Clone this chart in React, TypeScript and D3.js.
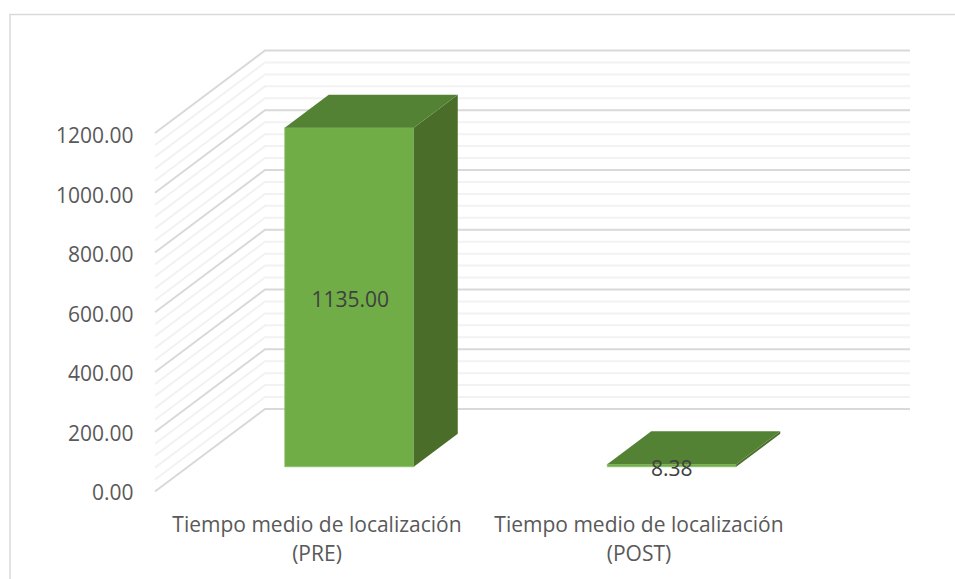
import React from "react";
import * as d3 from "d3";

const categories = [["Tiempo medio de localización", "(PRE)"], ["Tiempo medio de localización", "(POST)"]];
const values = [1135, 8.38];
const valueLabels = ["1135.00", "8.38"];
const majorTicks = [0, 200, 400, 600, 800, 1000, 1200];
const minorTicks = [40, 80, 120, 160, 240, 280, 320, 360, 440, 480, 520, 560, 640, 680, 720, 760, 840, 880, 920, 960, 1040, 1080, 1120, 1160];

const W = 955, H = 579;
const FX = 155, FY = 491.5, DX = 110, DY = 82.5, PW = 645;
const font = "'Open Sans', sans-serif";

export default function App() {
  const y = d3.scaleLinear().domain([0, 1200]).range([0, 358.5]);
  const x = d3.scaleBand<number>().domain([0, 1]).range([0, PW]);
  const pt = (xv: number, val: number, depth: number): [number, number] => [
    FX + xv + DX * depth,
    FY - y(val) - DY * depth,
  ];
  const poly = d3.line();
  const grid = (v: number) => poly([pt(0, v, 0), pt(0, v, 1), pt(PW, v, 1)]) as string;
  const barW = x.bandwidth() * 0.4;
  const labelY = d3.scaleLinear().domain([0, 1200]).range([492.5, 135.5]);
  return (
    <svg width={W} height={H} style={{ position: "fixed", left: 0, top: 0, background: "#fff" }}>
      <path d={`M10,${H}V14.5H${W}`} fill="none" stroke="#d9d9d9" strokeWidth={1.5} />
      {minorTicks.map((t) => (
        <path key={t} d={grid(t)} fill="none" stroke="#f2f2f2" strokeWidth={2} />
      ))}
      {majorTicks.map((t) => (
        <path key={t} d={grid(t)} fill="none" stroke="#d9d9d9" strokeWidth={2} />
      ))}
      {majorTicks.map((t) => (
        <text key={t} x={133.5} y={labelY(t)} dy="0.36em" textAnchor="end" fontFamily={font} fontSize={21} fill="#595959">
          {t.toFixed(2)}
        </text>
      ))}
      {values.map((v, i) => {
        const x0 = (x(i) as number) + x.bandwidth() * 0.3;
        const x1 = x0 + barW;
        const d0 = 0.3, d1 = 0.7;
        return (
          <g key={i}>
            <path d={poly([pt(x0, v, d0), pt(x1, v, d0), pt(x1, 0, d0), pt(x0, 0, d0)]) + "Z"} fill="#70ad47" stroke="#8cc168" strokeWidth={0.75} />
            <path d={poly([pt(x1, v, d0), pt(x1, v, d1), pt(x1, 0, d1), pt(x1, 0, d0)]) + "Z"} fill="#4a6e2a" />
            <path d={poly([pt(x0, v, d0), pt(x0, v, d1), pt(x1, v, d1), pt(x1, v, d0)]) + "Z"} fill="#548235" />
            <text x={(x0 + x1) / 2 + FX + DX * d0 + (i === 0 ? 1 : 0)} y={i === 0 ? 299 : 468} dy="0.36em" textAnchor="middle" fontFamily={font} fontSize={21} fill="#404040">
              {valueLabels[i]}
            </text>
          </g>
        );
      })}
      {categories.map((c, i) => (
        <text key={i} textAnchor="middle" fontFamily={font} fontSize={21} fill="#595959">
          <tspan x={i === 0 ? 317 : 639} y={532}>{c[0]}</tspan>
          <tspan x={i === 0 ? 317 : 639} y={561}>{c[1]}</tspan>
        </text>
      ))}
    </svg>
  );
}
